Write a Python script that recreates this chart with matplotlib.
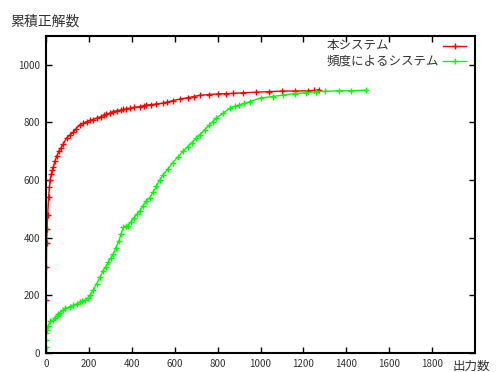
import matplotlib
matplotlib.use("Agg")
import matplotlib.pyplot as plt
from matplotlib.lines import Line2D

plt.rcParams['font.family'] = ['Noto Sans CJK JP', 'DejaVu Sans']

# cumulative correct answers vs number of outputs
ours_x = [1, 2, 3, 5, 8, 12, 16, 19, 25, 30, 34, 42, 50, 60, 70, 80, 96, 110,
          127, 140, 158, 173, 189, 205, 220, 236, 255, 270, 282, 300, 312, 330,
          350, 360, 375, 391, 410, 437, 455, 468, 490, 515, 544, 565, 592, 623,
          660, 690, 716, 760, 800, 840, 871, 920, 980, 1040, 1102, 1160, 1220,
          1250, 1274]
ours_y = [185, 300, 380, 430, 480, 540, 575, 600, 620, 635, 645, 666, 683, 700,
          713, 725, 746, 756, 766, 778, 792, 797, 803, 807, 810, 815, 820, 825,
          828, 833, 838, 841, 843, 845, 848, 849, 852, 855, 858, 860, 862, 864,
          867, 871, 876, 881, 886, 890, 894, 897, 899, 900, 901, 903, 905, 907,
          909, 909, 910, 911, 914]

freq_x = [0, 0, 0, 2, 5, 10, 20, 34, 42, 50, 58, 65, 78, 90, 110, 127, 143,
          158, 170, 181, 195, 205, 220, 236, 251, 267, 280, 290, 302, 313, 326,
          340, 350, 360, 372, 383, 397, 410, 424, 437, 452, 468, 484, 500, 515,
          530, 546, 570, 590, 615, 639, 660, 680, 700, 716, 740, 760, 777, 794,
          825, 856, 880, 902, 925, 949, 1000, 1056, 1104, 1160, 1212, 1259, 1300,
          1367, 1420, 1490]
freq_y = [0, 20, 45, 69, 80, 95, 110, 114, 121, 128, 134, 140, 148, 155, 160,
          165, 171, 177, 180, 183, 191, 200, 217, 240, 263, 286, 300, 315, 329,
          343, 366, 390, 413, 436, 439, 441, 456, 470, 481, 493, 511, 528, 539,
          560, 580, 600, 619, 640, 660, 680, 700, 715, 730, 745, 757, 775, 790,
          803, 815, 832, 849, 856, 861, 866, 872, 885, 890, 895, 900, 903, 907,
          908, 910, 910, 912]

labels = ['本システム', '頻度によるシステム']
colors = ['#ff0000', '#00ff00']
xticks = [0, 200, 400, 600, 800, 1000, 1200, 1400, 1600, 1800]
yticks = [0, 200, 400, 600, 800, 1000]

fig = plt.figure(figsize=(4.96, 3.72), dpi=100)
ax = fig.add_axes([46 / 496, 19 / 372, 429 / 496, 317 / 372])

ax.plot(ours_x, ours_y, color=colors[0], lw=1, marker='+', ms=4, mew=1)
ax.plot(freq_x, freq_y, color=colors[1], lw=1, marker='+', ms=4, mew=1)

ax.set_xlim(0, 2000)
ax.set_ylim(0, 1100)
ax.set_xticks(xticks)
ax.set_yticks(yticks)
ax.tick_params(direction='in', length=4, width=1, top=True, right=True,
               labelsize=7, labelcolor='#333333', pad=4)
for s in ax.spines.values():
    s.set_linewidth(1.5)

fig.text(10 / 496, 1 - 22 / 372, '累積正解数', fontsize=10, color='#333333',
         va='center', ha='left')
fig.text(453 / 496, 1 - 366 / 372, '出力数', fontsize=9, color='#333333',
         va='center', ha='left')

# gnuplot style key: text left aligned, sample line on the right
for i, (lab, c) in enumerate(zip(labels, colors)):
    yy = 1 - (46 + 15 * i) / 372
    fig.text(327 / 496, yy, lab, fontsize=9, color='#333333',
             va='center', ha='left')
    fig.add_artist(Line2D([443 / 496, 466 / 496], [yy, yy], color=c, lw=1,
                          transform=fig.transFigure))
    fig.add_artist(Line2D([454.5 / 496], [yy], color=c, marker='+', ms=4,
                          mew=1, transform=fig.transFigure))

fig.savefig('out.png', dpi=100)
